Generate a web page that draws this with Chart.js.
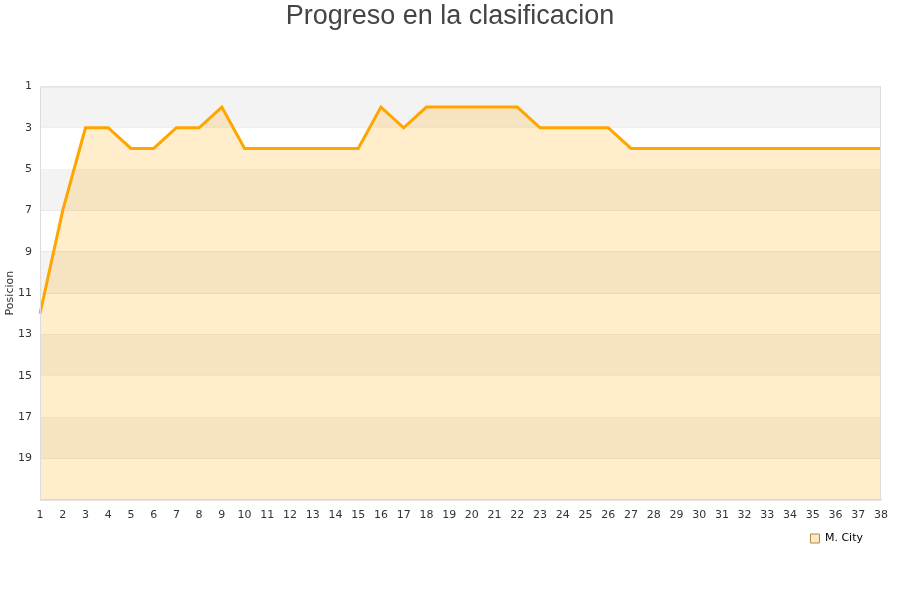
<!DOCTYPE html>
<html>
<head>
<meta charset="utf-8">
<script src="https://cdn.jsdelivr.net/npm/chart.js@4/dist/chart.umd.min.js"></script>
<style>
    html, body { margin: 0; padding: 0; background: #fff; }
    #wrap { width: 900px; height: 600px; }
</style>
</head>
<body>
<div id="wrap"><canvas id="pos-chart" width="900" height="600"></canvas></div>
<script>
/* Progreso en la clasificacion - M. City */

const jornadas = Array.from({ length: 38 }, (_, i) => String(i + 1));
const posiciones = [12, 7, 3, 3, 4, 4, 3, 3, 2, 4, 4, 4, 4, 4, 4, 2, 3, 2, 2, 2, 2, 2, 3, 3, 3, 3, 4, 4, 4, 4, 4, 4, 4, 4, 4, 4, 4, 4];
const bandas = [[1, 3], [5, 7], [9, 11], [13, 15], [17, 19]];

// bandas grises alternas + borde del area
const bandPlugin = {
    id: 'bands',
    afterLayout(chart) {
        // leyenda un poco mas a la izquierda, titulo centrado en el canvas
        if (chart.legend) {
            chart.legend.left -= 8;
            chart.legend.right -= 8;
        }
        if (chart.titleBlock) {
            chart.titleBlock.left = 0;
            chart.titleBlock.right = chart.width;
        }
    },
    beforeDatasetsDraw(chart) {
        const { ctx, chartArea, scales } = chart;
        ctx.save();
        ctx.fillStyle = '#f3f3f3';
        bandas.forEach(b => {
            const y1 = scales.y.getPixelForValue(b[0]);
            const y2 = scales.y.getPixelForValue(b[1]);
            ctx.fillRect(chartArea.left, y1, chartArea.right - chartArea.left, y2 - y1);
        });
        ctx.restore();
    },
    afterDraw(chart) {
        const { ctx, chartArea } = chart;
        ctx.save();
        ctx.strokeStyle = '#dcdcdc';
        ctx.lineWidth = 1;
        ctx.strokeRect(chartArea.left + 0.5, chartArea.top + 0.5,
            chartArea.right - chartArea.left - 1, chartArea.bottom - chartArea.top);
        ctx.restore();
    }
};

const ctx = document.getElementById('pos-chart').getContext('2d');
new Chart(ctx, {
    type: 'line',
    data: {
        labels: jornadas,
        datasets: [{
            label: 'M. City',
            data: posiciones,
            borderColor: '#ffa500',
            backgroundColor: 'rgba(255, 165, 0, 0.2)',
            borderWidth: 3,
            pointRadius: 0,
            tension: 0,
            fill: { value: 21 },
        }]
    },
    options: {
        responsive: false,
        animation: false,
        layout: { padding: { left: 4, right: 19, top: 0, bottom: 46 } },
        scales: {
            x: {
                offset: false,
                grid: { display: false },
                border: { display: true, color: '#dcdcdc' },
                ticks: { color: '#333', font: { family: 'DejaVu Sans', size: 11 }, maxRotation: 0, autoSkip: false, padding: 1 }
            },
            y: {
                reverse: true,
                min: 1,
                max: 21,
                afterFit: scale => { scale.width = 36; },
                grid: { color: '#e2e2e2', drawTicks: false },
                border: { display: true, color: '#dcdcdc' },
                ticks: {
                    stepSize: 2,
                    color: '#333',
                    padding: 8,
                    font: { family: 'DejaVu Sans', size: 11 },
                    callback: v => v === 21 ? '' : v
                },
                title: { display: true, text: 'Posicion', color: '#333', font: { family: 'DejaVu Sans', size: 11 }, padding: 0 }
            }
        },
        plugins: {
            title: {
                display: true,
                text: 'Progreso en la clasificacion',
                color: '#444',
                font: { family: 'Liberation Sans', size: 27, weight: 'normal' },
                padding: { top: 0, bottom: 54 }
            },
            legend: {
                display: true,
                position: 'bottom',
                align: 'end',
                labels: {
                    boxWidth: 9,
                    boxHeight: 9,
                    padding: 10,
                    color: '#222',
                    font: { family: 'DejaVu Sans', size: 11 },
                    generateLabels: chart => [{
                        text: 'M. City',
                        fillStyle: '#fde9c4',
                        strokeStyle: '#b08850',
                        lineWidth: 1,
                        datasetIndex: 0
                    }]
                }
            },
            tooltip: { enabled: false }
        }
    },
    plugins: [bandPlugin]
});
</script>
</body>
</html>
